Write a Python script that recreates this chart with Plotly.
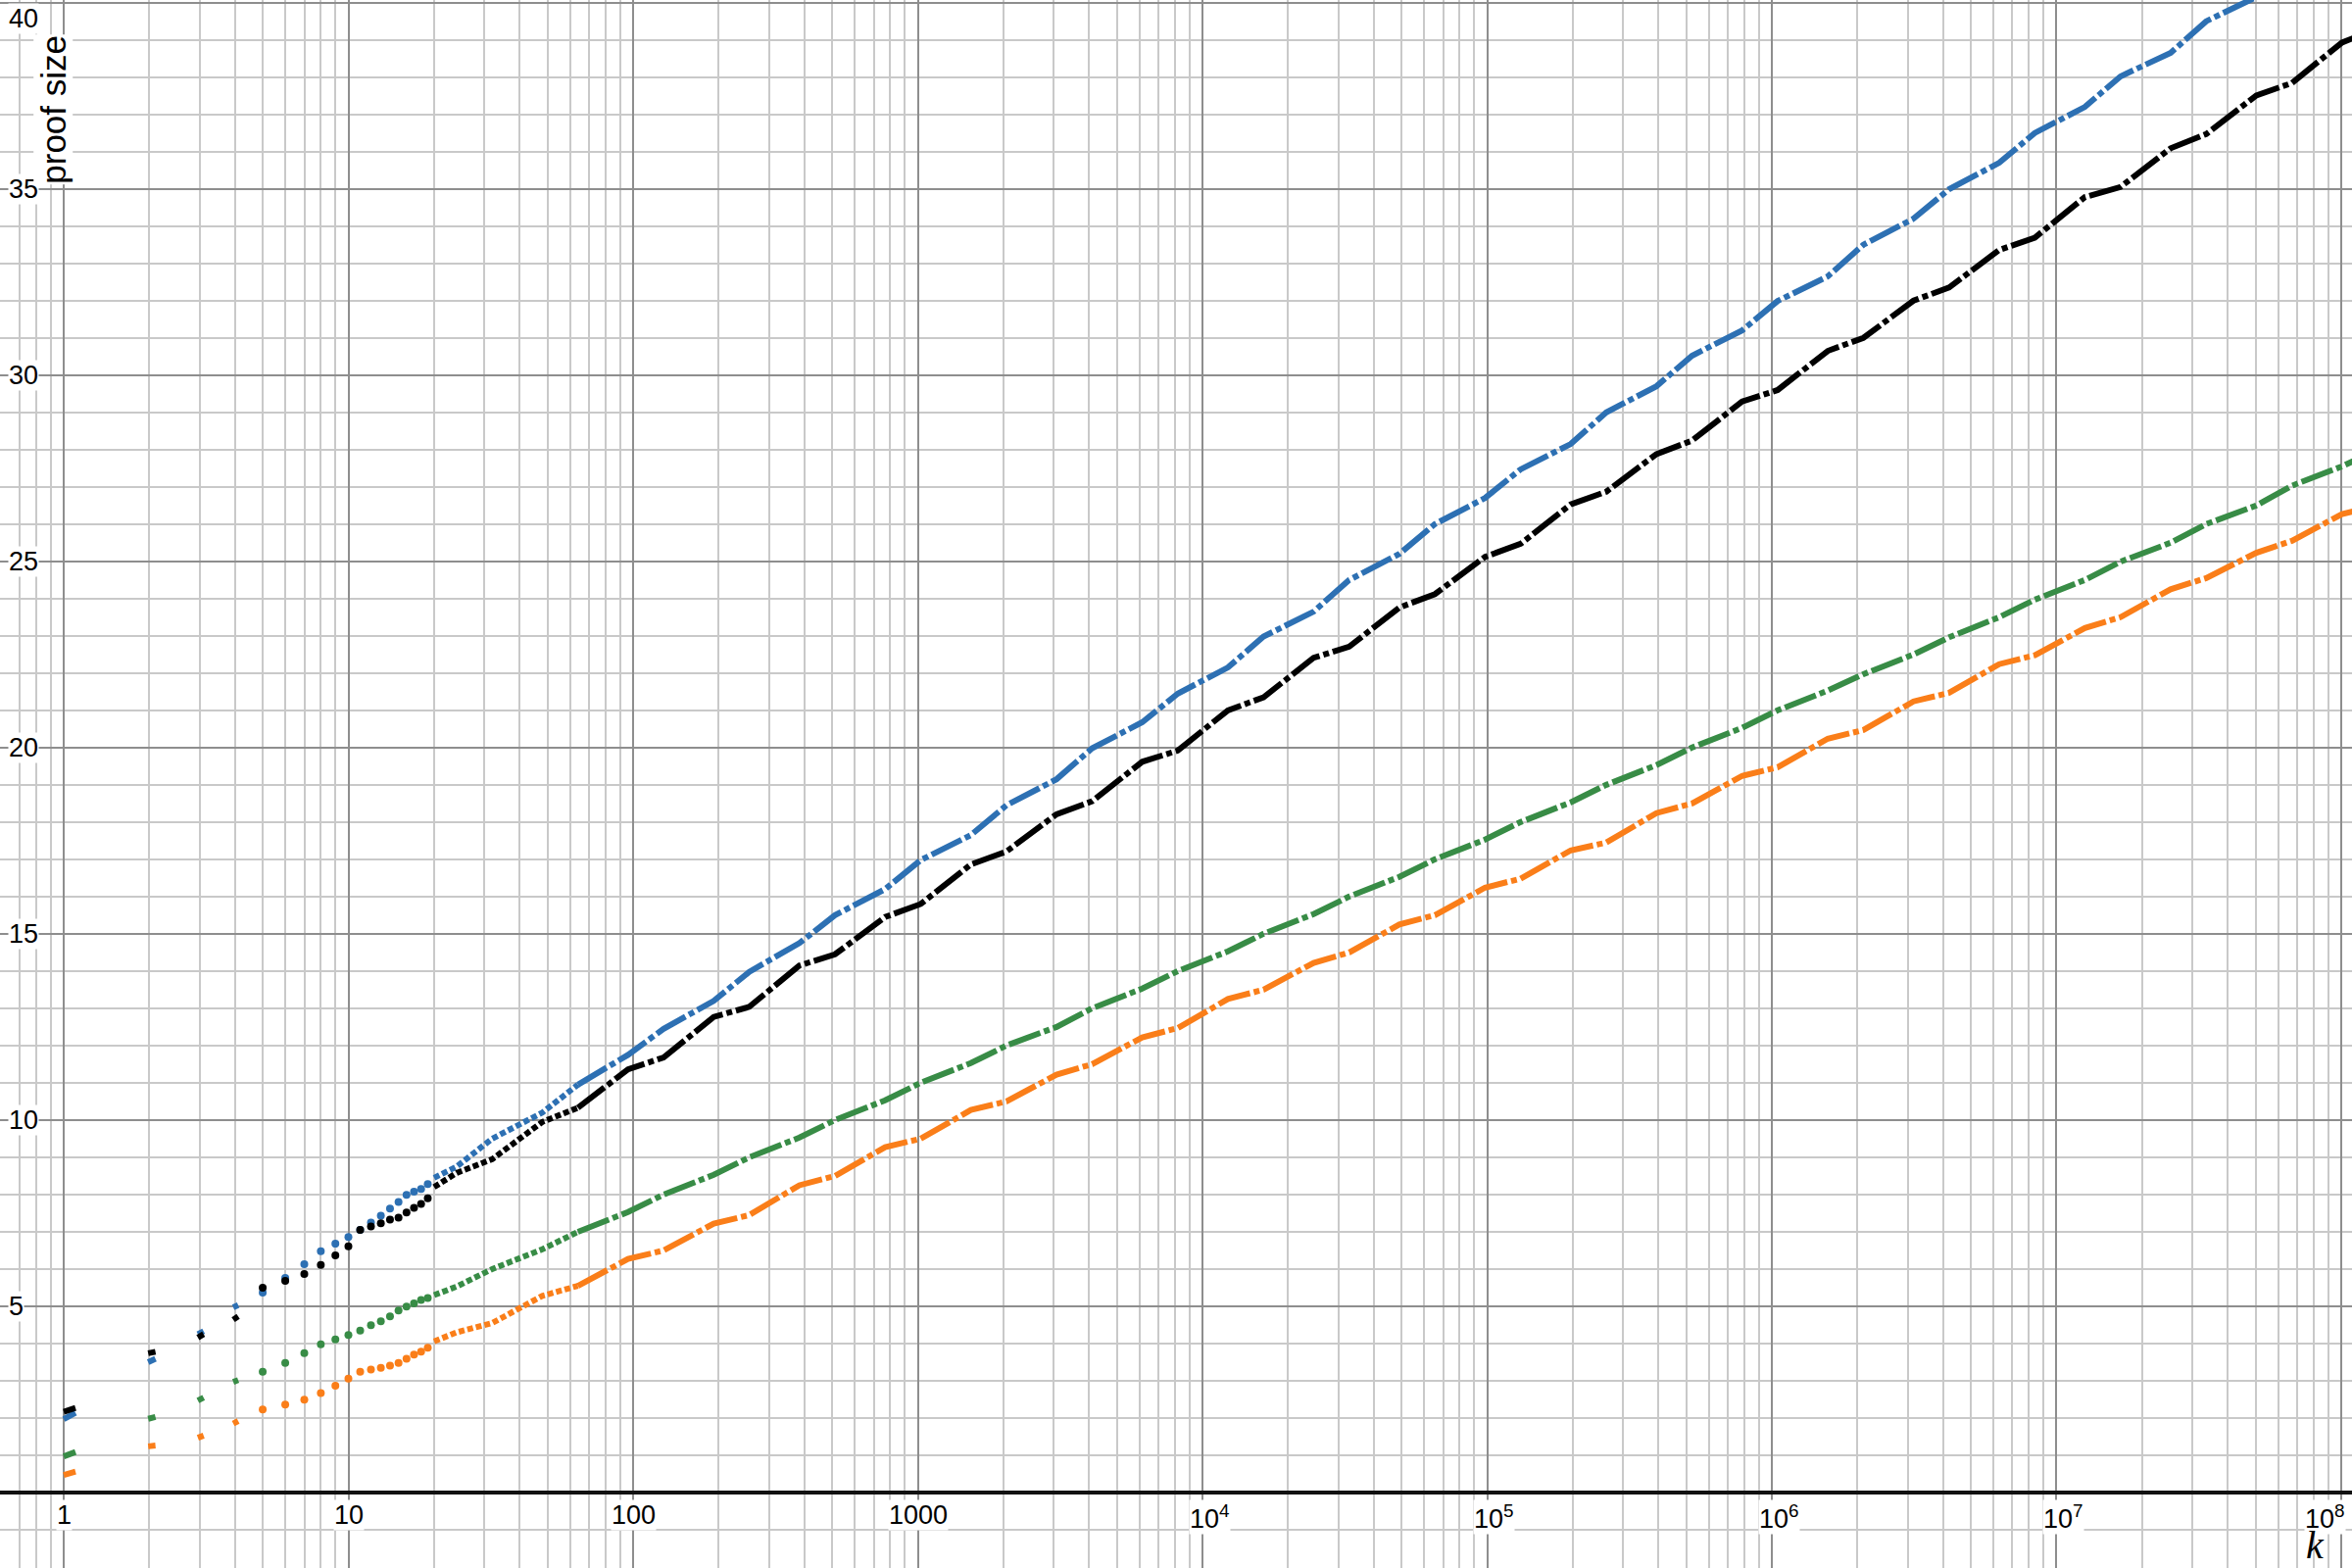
import math
import plotly.graph_objects as go

# ---------------- data ----------------
# short slanted strokes drawn at the first four k values (start / end of each stroke)
stroke_k_start = [1.00, 1.98, 2.96, 3.94]
stroke_k_end = [1.10, 2.10, 3.10, 4.10]

blue_stroke_start = [1.97, 3.50, 4.25, 4.97]
blue_stroke_end = [2.14, 3.59, 4.33, 5.03]
black_stroke_start = [2.17, 3.74, 4.16, 4.64]
black_stroke_end = [2.27, 3.78, 4.25, 4.73]
green_stroke_start = [0.97, 1.98, 2.47, 2.97]
green_stroke_end = [1.09, 2.03, 2.55, 3.02]
orange_stroke_start = [0.47, 1.24, 1.47, 1.85]
orange_stroke_end = [0.56, 1.26, 1.53, 1.92]

# separate dots at integer k
dot_k = [5, 6, 7, 8, 9, 10, 11, 12, 13, 14, 15, 16, 17, 18, 19]
blue_dots = [5.37, 5.76, 6.13, 6.48, 6.68, 6.86, 7.05, 7.25, 7.43, 7.62, 7.80, 7.99, 8.08, 8.15, 8.28]
black_dots = [5.50, 5.68, 5.87, 6.11, 6.37, 6.61, 7.05, 7.14, 7.23, 7.33, 7.38, 7.52, 7.64, 7.75, 7.90]
green_dots = [3.24, 3.48, 3.74, 3.98, 4.11, 4.23, 4.35, 4.49, 4.60, 4.73, 4.89, 4.99, 5.08, 5.17, 5.22]
orange_dots = [2.23, 2.36, 2.49, 2.67, 2.87, 3.06, 3.24, 3.30, 3.35, 3.41, 3.48, 3.59, 3.70, 3.78, 3.89]

# dense part of the curves (k >= 20)
line_k = [20, 24, 32, 48, 64, 96, 128, 192, 256, 384, 512, 768, 1024, 1536, 2048,
          3072, 4096, 6144, 8192, 12288, 16384, 24576, 32768, 49152, 65536,
          98304, 131072, 196608, 262144, 393216, 524288, 786432, 1048576,
          1572864, 2097152, 3145728, 4194304, 6291456, 8388608, 12582912,
          16777216, 25165824, 33554432, 50331648, 67108864, 100663296, 134217728]
blue_line = [8.45, 8.75, 9.50, 10.20, 10.95, 11.75, 12.45, 13.20, 13.98, 14.75,
             15.50, 16.20, 16.98, 17.65, 18.45, 19.15, 19.98, 20.68, 21.45, 22.15,
             22.98, 23.65, 24.50, 25.20, 26.00, 26.70, 27.47, 28.15, 29.00, 29.70,
             30.52, 31.20, 31.99, 32.65, 33.50, 34.20, 34.99, 35.70, 36.50, 37.20,
             38.02, 38.65, 39.50, 40.15, 41.00, 41.70, 42.50]
black_line = [8.20, 8.58, 8.95, 9.95, 10.33, 11.36, 11.68, 12.77, 13.04, 14.15,
              14.45, 15.45, 15.80, 16.86, 17.21, 18.21, 18.56, 19.62, 19.92, 21.00,
              21.35, 22.41, 22.71, 23.76, 24.12, 25.12, 25.47, 26.53, 26.87, 27.88,
              28.24, 29.29, 29.60, 30.65, 31.00, 32.00, 32.35, 33.36, 33.69, 34.78,
              35.05, 36.09, 36.47, 37.51, 37.84, 38.93, 39.30]
green_line = [5.30, 5.53, 6.00, 6.53, 7.00, 7.53, 8.00, 8.53, 9.00, 9.53,
              10.00, 10.53, 11.00, 11.53, 12.00, 12.50, 13.00, 13.53, 14.00, 14.53,
              15.00, 15.53, 16.00, 16.53, 17.00, 17.53, 18.00, 18.53, 19.00, 19.53,
              20.00, 20.53, 21.00, 21.53, 21.97, 22.50, 22.96, 23.50, 23.97, 24.50,
              24.99, 25.50, 26.00, 26.50, 27.03, 27.55, 28.00]
orange_line = [4.06, 4.30, 4.55, 5.28, 5.55, 6.27, 6.50, 7.22, 7.45, 8.25,
               8.50, 9.27, 9.50, 10.27, 10.50, 11.22, 11.50, 12.22, 12.47, 13.25,
               13.50, 14.22, 14.50, 15.25, 15.50, 16.24, 16.48, 17.24, 17.45, 18.24,
               18.50, 19.24, 19.47, 20.24, 20.47, 21.24, 21.47, 22.24, 22.48, 23.21,
               23.50, 24.25, 24.55, 25.23, 25.55, 26.27, 26.50]

# axis ticks and labels
x_tick_vals = [1, 10, 100, 1000, 1e4, 1e5, 1e6, 1e7, 1e8]
x_tick_text = ["1", "10", "100", "1000", "10<sup>4</sup>", "10<sup>5</sup>",
               "10<sup>6</sup>", "10<sup>7</sup>", "10<sup>8</sup>"]
x_minor_digits = [2, 3, 4, 5, 6, 7, 8, 9]
x_minor_decades = [0.1, 1, 10, 100, 1000, 1e4, 1e5, 1e6, 1e7, 1e8]
y_tick_vals = [5, 10, 15, 20, 25, 30, 35, 40]
y_tick_text = ["5", "10", "15", "20", "25", "30", "35", "40"]
x_title = "k"
y_title = "proof size"

# ---------------- styling ----------------
W, H = 2400, 1600
X_RANGE = [-0.2238, 8.0379]      # log10 of k at the left / right edge
Y_RANGE = [-2.026, 40.07]
MAJOR_GRID = "#8e8e8e"
MINOR_GRID = "#c9c9c9"
LABEL_FONT = "Liberation Sans, Arial, sans-serif"
TICK_SIZE = 27

series = [
    ("green", "#388c46", green_stroke_start, green_stroke_end, green_dots, green_line),
    ("orange", "#fa7e19", orange_stroke_start, orange_stroke_end, orange_dots, orange_line),
    ("blue", "#2d70b3", blue_stroke_start, blue_stroke_end, blue_dots, blue_line),
    ("black", "#000000", black_stroke_start, black_stroke_end, black_dots, black_line),
]

fig = go.Figure()
split = line_k.index(64)
for name, color, s_start, s_end, dots, line in series:
    sx, sy = [], []
    for k0, k1, y0, y1 in zip(stroke_k_start, stroke_k_end, s_start, s_end):
        sx += [k0, k1, None]
        sy += [y0, y1, None]
    fig.add_trace(go.Scatter(x=sx, y=sy, mode="lines",
                             line=dict(color=color, width=6), hoverinfo="skip",
                             showlegend=False))
    fig.add_trace(go.Scatter(x=dot_k, y=dots, mode="markers",
                             marker=dict(color=color, size=8, line=dict(width=0)),
                             showlegend=False))
    fig.add_trace(go.Scatter(x=line_k[:split + 1], y=line[:split + 1], mode="lines",
                             line=dict(color=color, width=6, dash="6px,3px"),
                             showlegend=False))
    fig.add_trace(go.Scatter(x=line_k[split:], y=line[split:], mode="lines",
                             line=dict(color=color, width=6, dash="34px,4px,6px,4px"),
                             showlegend=False))

tick_font = dict(family=LABEL_FONT, size=TICK_SIZE, color="black")
annotations = []
# y tick labels (left edge, white halo)
for v, t in zip(y_tick_vals, y_tick_text):
    top = v == max(y_tick_vals)
    annotations.append(dict(x=0.0035, xref="paper", y=v, yref="y",
                            xanchor="left", yanchor="top" if top else "middle",
                            text=t, showarrow=False, bgcolor="white", borderpad=0,
                            font=tick_font))
# x tick labels (below the k axis)
for v, t in zip(x_tick_vals, x_tick_text):
    lv = math.log10(v)
    sup = "<sup>" in t
    last = lv > X_RANGE[1] - 0.08
    annotations.append(dict(x=lv, xref="x", y=0, yref="y",
                            xanchor="center", yanchor="top", yshift=-7,
                            xshift=(-16 if last else 7) if sup else 0,
                            text=t, showarrow=False, bgcolor="white", borderpad=0,
                            font=tick_font))
# axis titles
annotations.append(dict(x=0.0228, xref="paper", y=0.930, yref="paper",
                        xanchor="center", yanchor="middle", textangle=-90,
                        text=y_title, showarrow=False, bgcolor="white", borderpad=0,
                        font=dict(family=LABEL_FONT, size=35, color="black")))
annotations.append(dict(x=0.9842, xref="paper", y=0, yref="paper",
                        xanchor="center", yanchor="bottom", yshift=-1,
                        text="<i>" + x_title + "</i>", showarrow=False,
                        font=dict(family="Liberation Serif, Times New Roman, serif",
                                  size=40, color="black")))

minor_x = [d * dec for dec in x_minor_decades for d in x_minor_digits]

fig.update_layout(
    width=W, height=H,
    margin=dict(l=0, r=0, t=0, b=0),
    paper_bgcolor="white", plot_bgcolor="white",
    showlegend=False,
    annotations=annotations,
    xaxis=dict(type="log", range=X_RANGE, dtick=1, showgrid=True,
               gridcolor=MAJOR_GRID, gridwidth=2,
               minor=dict(tickmode="array", tickvals=minor_x, showgrid=True,
                          gridcolor=MINOR_GRID, gridwidth=2, ticks=""),
               showticklabels=False, ticks="", zeroline=False, showline=False),
    yaxis=dict(range=Y_RANGE, tick0=0, dtick=5, showgrid=True,
               gridcolor=MAJOR_GRID, gridwidth=2,
               minor=dict(tick0=0, dtick=1, showgrid=True, gridcolor=MINOR_GRID,
                          gridwidth=2, ticks=""),
               showticklabels=False, ticks="", zeroline=True,
               zerolinecolor="#111111", zerolinewidth=3.5, showline=False),
)

# remove the browser's default page margin so the figure fills the window exactly
fig.write_html("out.html", config={"displayModeBar": False},
               post_script="document.body.style.margin='0';")
